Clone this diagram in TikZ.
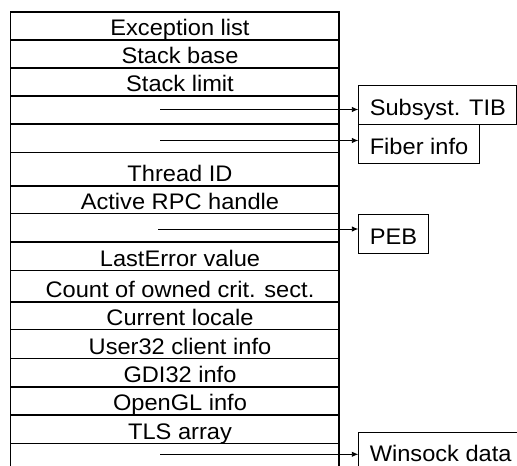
\documentclass[tikz,border=0pt]{standalone}
\usepackage{fontspec}
\setmainfont[FakeStretch=1.05]{Liberation Sans}
\usetikzlibrary{arrows.meta}
\begin{document}
\begin{tikzpicture}[x=1pt,y=-1pt,
  cellline/.style={line width=1.4pt},
  celltext/.style={anchor=base,inner sep=0pt,font=\fontsize{22.5}{26}\selectfont},
  ptrbox/.style={draw,line width=1pt,anchor=north west,inner xsep=11pt,inner ysep=9.5pt,
    text height=20pt,text depth=0pt,font=\fontsize{22.5}{26}\selectfont},
  ptrarrow/.style={line width=0.9pt,-{Latex[length=6.5pt,width=5.5pt]}}]
\useasboundingbox (0,0) rectangle (517,466);
\clip (0,0) rectangle (517,466);
% thread information block: one row per field
\foreach \i/\t/\b/\txt in {
   1/12/40/Exception list,
   2/40/68/Stack base,
   3/68/96/Stack limit,
   4/96/124/,
   5/124/152.5/,
   6/152.5/186/Thread ID,
   7/186/213.5/Active RPC handle,
   8/213.5/242/,
   9/242/270.5/LastError value,
  10/270.5/302/Count of owned crit. sect.,
  11/302/329.5/Current locale,
  12/329.5/358.5/User32 client info,
  13/358.5/387/GDI32 info,
  14/387/415/OpenGL info,
  15/415/443.5/TLS array,
  16/443.5/480/}{
  \draw[cellline] (10.5,\t) rectangle (339,\b);
  \node[celltext] (r\i) at (180,\b-4.5) {\txt};
}
% structures pointed to from the block
\node[ptrbox] (tib) at (358.3,85) {Subsyst. TIB};
\node[ptrbox] (fiber) at (358.3,124) {Fiber info};
\node[ptrbox] (peb) at (358.3,214) {PEB};
\node[ptrbox] (wsock) at (358.3,431.7) {Winsock data};
% pointer fields
\coordinate (p4) at (160,109.5);
\coordinate (p5) at (160,140.5);
\coordinate (p8) at (158,229);
\coordinate (p16) at (160,454.3);
\draw[ptrarrow] (p4) -- (p4 -| tib.west);
\draw[ptrarrow] (p5) -- (p5 -| fiber.west);
\draw[ptrarrow] (p8) -- (p8 -| peb.west);
\draw[ptrarrow] (p16) -- (p16 -| wsock.west);
\end{tikzpicture}
\end{document}
